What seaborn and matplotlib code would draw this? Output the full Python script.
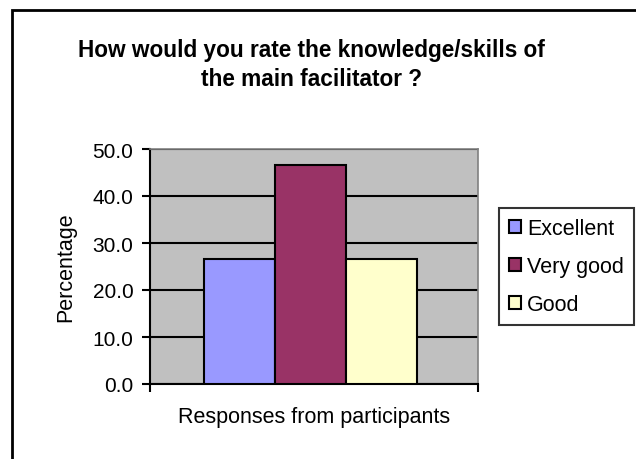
import pandas as pd
import matplotlib.pyplot as plt
import seaborn as sns
from matplotlib.patches import Rectangle

# Дані з діаграми
group = ['Responses from participants'] * 3
ratings = ['Excellent', 'Very good', 'Good']
percentages = [26.7, 46.7, 26.7]
bar_colors = ['#9999FF', '#993366', '#FFFFCC']


def setup_style():
    sns.set_theme(style="white")
    plt.rcParams['font.family'] = ['Liberation Sans', 'DejaVu Sans']
    plt.rcParams['font.size'] = 15
    plt.rcParams['text.color'] = 'black'
    plt.rcParams['axes.labelcolor'] = 'black'
    plt.rcParams['xtick.color'] = 'black'
    plt.rcParams['ytick.color'] = 'black'


def plot_rating(output_file):
    df = pd.DataFrame({'Group': group, 'Rating': ratings, 'Percentage': percentages})

    fig = plt.figure(figsize=(6.36, 4.6), dpi=100)
    ax = fig.add_axes([150 / 636, 1 - 385 / 460, 328 / 636, 235 / 460])
    ax.set_facecolor('#C0C0C0')

    sns.barplot(data=df, x='Group', y='Percentage', hue='Rating', hue_order=ratings,
                palette=bar_colors, width=0.65, edgecolor='black', linewidth=1.5,
                saturation=1, ax=ax, zorder=3)

    ax.set_ylim(0, 50)
    ax.set_xlim(-0.49, 0.51)
    ax.set_yticks(range(0, 51, 10))
    ax.set_yticklabels([f'{v:.1f}' for v in range(0, 51, 10)], fontsize=15)
    ax.set_xticks([-0.49, 0.51])
    ax.set_xticklabels(['', ''])
    ax.yaxis.grid(True, color='black', linewidth=1.5, zorder=1)
    ax.set_axisbelow(True)
    ax.tick_params(axis='y', length=6, width=1.5, color='black', direction='out', left=True, pad=6)
    ax.tick_params(axis='x', length=6, width=1.5, color='black', direction='out', bottom=True)

    for side in ['left', 'bottom']:
        ax.spines[side].set_color('black')
        ax.spines[side].set_linewidth(1.5)
    for side in ['top', 'right']:
        ax.spines[side].set_color('#808080')
        ax.spines[side].set_linewidth(1.2)
        ax.spines[side].set_linestyle((0, (3, 1)))

    ax.set_xlabel('Responses from participants', fontsize=15.5, labelpad=6)
    ax.set_ylabel('Percentage', fontsize=15.5, labelpad=12)

    fig.text(0.49, 1 - 50 / 460, 'How would you rate the knowledge/skills of',
             ha='center', va='center', fontsize=16.3, fontweight='bold')
    fig.text(0.49, 1 - 79 / 460, 'the main facilitator ?',
             ha='center', va='center', fontsize=16.3, fontweight='bold')

    handles, labels = ax.get_legend_handles_labels()
    leg = ax.legend(handles, labels, loc='upper left',
                    bbox_to_anchor=(499 / 636, 1 - 209 / 460), bbox_transform=fig.transFigure,
                    borderaxespad=0, fancybox=False, frameon=True, fontsize=15.5,
                    handlelength=0.55, handleheight=0.55, handletextpad=0.3,
                    labelspacing=0.8, borderpad=0.45)
    leg.get_frame().set_edgecolor('black')
    leg.get_frame().set_linewidth(1.5)

    # рамка навколо діаграми
    fig.patches.append(Rectangle((12 / 636, -0.1), 1.0, 1.1 - 11 / 460, transform=fig.transFigure,
                                 fill=False, edgecolor='black', linewidth=2, figure=fig))

    fig.savefig(output_file, dpi=100)
    plt.close(fig)


if __name__ == "__main__":
    setup_style()
    plot_rating('out.png')
